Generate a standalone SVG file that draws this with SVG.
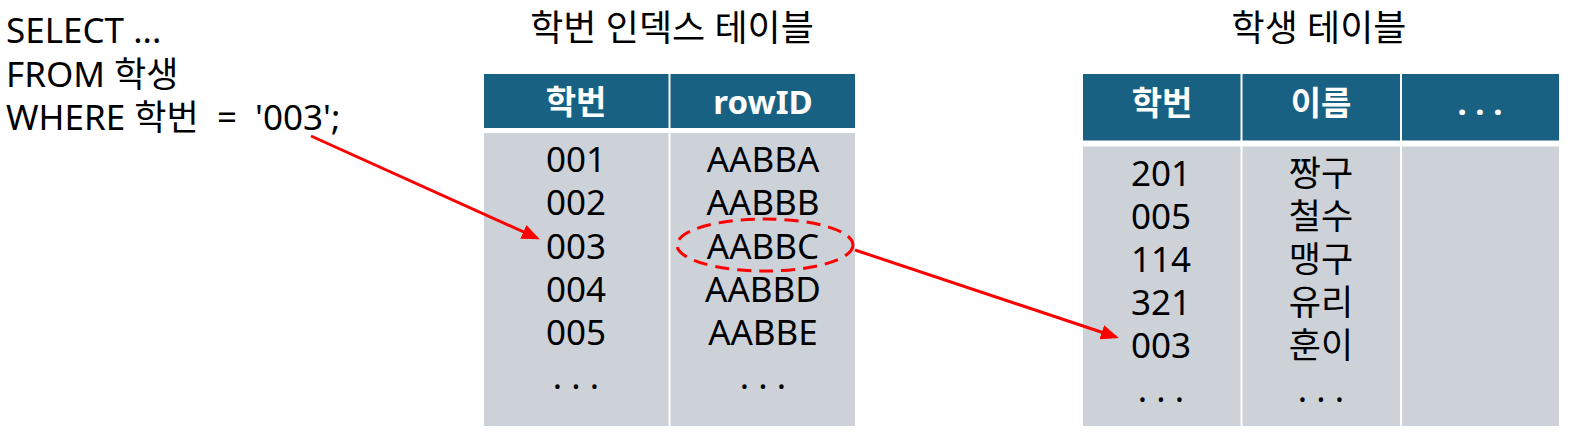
<svg xmlns="http://www.w3.org/2000/svg" width="1577" height="439" viewBox="0 0 1577 439">
<style>
text{font-family:"Noto Sans","Noto Sans CJK KR",sans-serif;fill:#000}
.hd{fill:#186183}
.bd{fill:#CDD2D9}
.ht{font-size:33px;font-weight:bold;fill:#fff;text-anchor:middle}
.ct{font-size:35px;text-anchor:middle}
.tt{font-size:36px;text-anchor:middle}
.sq{font-size:35px}
.red{stroke:#FF0000;stroke-width:3;fill:none}
</style>
<defs>
<marker id="ah" markerWidth="6" markerHeight="5" refX="5" refY="2.5" orient="auto" markerUnits="strokeWidth">
<path d="M0,0 L6,2.5 L0,5 z" fill="#FF0000"/>
</marker>
</defs>
<g id="sql">
<text class="sq" x="6" y="43">SELECT ...</text>
<text class="sq" x="6" y="87">FROM 학생</text>
<text class="sq" x="6" y="130" xml:space="preserve">WHERE 학번  =  '003';</text>
</g>
<g id="index-table">
<text class="tt" x="672" y="41">학번 인덱스 테이블</text>
<rect class="hd" x="484" y="74" width="184.5" height="54"/>
<rect class="hd" x="670.5" y="74" width="184.5" height="54"/>
<rect class="bd" x="484" y="133" width="184.5" height="293"/>
<rect class="bd" x="670.5" y="133" width="184.5" height="293"/>
<text class="ht" x="576" y="114">학번</text>
<text class="ht" x="763" y="114">rowID</text>
<text class="ct" x="576" y="172">001</text>
<text class="ct" x="576" y="215">002</text>
<text class="ct" x="576" y="259">003</text>
<text class="ct" x="576" y="302">004</text>
<text class="ct" x="576" y="345">005</text>
<text class="ct" x="576" y="389">. . .</text>
<text class="ct" x="763" y="172">AABBA</text>
<text class="ct" x="763" y="215">AABBB</text>
<text class="ct" x="763" y="259">AABBC</text>
<text class="ct" x="763" y="302">AABBD</text>
<text class="ct" x="763" y="345">AABBE</text>
<text class="ct" x="763" y="389">. . .</text>
<ellipse class="red" cx="765" cy="245" rx="88" ry="26" stroke-dasharray="14,8"/>
</g>
<g id="student-table">
<text class="tt" x="1319" y="41">학생 테이블</text>
<rect class="hd" x="1083" y="74" width="157.5" height="66.5"/>
<rect class="hd" x="1242.5" y="74" width="157.5" height="66.5"/>
<rect class="hd" x="1402" y="74" width="157" height="66.5"/>
<rect class="bd" x="1083" y="146.5" width="157.5" height="279.5"/>
<rect class="bd" x="1242.5" y="146.5" width="157.5" height="279.5"/>
<rect class="bd" x="1402" y="146.5" width="157" height="279.5"/>
<text class="ht" x="1162" y="115">학번</text>
<text class="ht" x="1321" y="115">이름</text>
<text class="ht" x="1480" y="115">. . .</text>
<text class="ct" x="1161" y="186">201</text>
<text class="ct" x="1161" y="229">005</text>
<text class="ct" x="1161" y="272">114</text>
<text class="ct" x="1161" y="315">321</text>
<text class="ct" x="1161" y="358">003</text>
<text class="ct" x="1161" y="402">. . .</text>
<text class="ct" x="1321" y="186">짱구</text>
<text class="ct" x="1321" y="229">철수</text>
<text class="ct" x="1321" y="272">맹구</text>
<text class="ct" x="1321" y="315">유리</text>
<text class="ct" x="1321" y="358">훈이</text>
<text class="ct" x="1321" y="402">. . .</text>
</g>
<g id="connectors">
<line class="red" x1="311" y1="136" x2="537" y2="238" marker-end="url(#ah)"/>
<line class="red" x1="855" y1="250" x2="1116" y2="337" marker-end="url(#ah)"/>
</g>
</svg>
